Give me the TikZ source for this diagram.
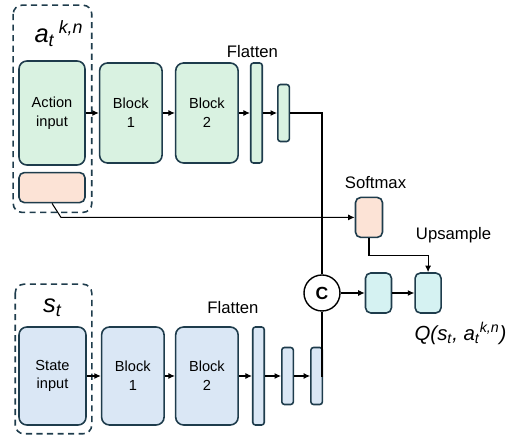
\documentclass[tikz,border=0pt]{standalone}
\usepackage{fontspec}
\setmainfont{Liberation Sans}
\usepackage{tikz}
\usetikzlibrary{arrows.meta, positioning, calc}
\definecolor{edgecolor}{HTML}{1E3C4C}
\definecolor{greenfill}{HTML}{D9F2E1}
\definecolor{bluefill}{HTML}{DAE7F5}
\definecolor{orangefill}{HTML}{FCE3D6}
\definecolor{cyanfill}{HTML}{D5F2F2}

\begin{document}
\begin{tikzpicture}[
        node distance=0.25cm,
        every node/.style={font=\fontsize{8.3}{10.6}\selectfont},
        box/.style={rectangle, draw=edgecolor, line width=0.9pt, rounded corners=4.5pt,
                    minimum width=1.25cm, minimum height=2cm, align=center, inner sep=1pt},
        bar/.style={rectangle, draw=edgecolor, line width=0.9pt, rounded corners=1.5pt,
                    minimum width=0.23cm, inner sep=0pt},
        lab/.style={font=\fontsize{9.5}{11}\selectfont, inner sep=0pt},
        var/.style={font=\fontsize{14.5}{16}\selectfont\itshape, inner sep=0pt},
        group/.style={draw=edgecolor, dash pattern=on 3.5pt off 2.5pt, line width=0.9pt,
                      rounded corners=5pt},
        arr/.style={-{Latex[length=1.3mm, width=1.2mm]}, line width=0.6pt}
    ]
    \useasboundingbox (0,0) rectangle (10.24,-8.76);

    % action branch
    \node[box, fill=greenfill, minimum width=1.32cm, minimum height=2.08cm] (action) at (1.04,-2.26) {Action\\input};
    \node[box, fill=orangefill, minimum width=1.32cm, minimum height=0.6cm, rounded corners=3pt,
          below=0.12cm of action] (mask) {};
    \node[box, fill=greenfill, right=0.26cm of action] (ablock1) {Block\\1};
    \node[box, fill=greenfill, right=0.24cm of ablock1] (ablock2) {Block\\2};
    \node[bar, fill=greenfill, minimum height=2cm, right=0.22cm of ablock2] (aflat) {};
    \node[bar, fill=greenfill, minimum height=1.14cm, right=0.28cm of aflat] (adense) {};
    \node[var, above=0.26cm of action, xshift=0.14cm] (alabel) {a\textsubscript{t}\,\textsuperscript{k,n}};
    \node[lab, above=0.08cm of aflat, xshift=-0.08cm] (aflatlabel) {Flatten};
    \draw[group] ($(action.north west)+(-0.10,1.10)$) rectangle ($(mask.south east)+(0.12,-0.18)$);

    % state branch
    \node[box, fill=bluefill, minimum width=1.34cm, minimum height=1.96cm] (state) at (1.05,-7.52) {State\\input};
    \node[box, fill=bluefill, minimum height=1.96cm, right=0.28cm of state] (sblock1) {Block\\1};
    \node[box, fill=bluefill, minimum height=1.96cm, right=0.2cm of sblock1] (sblock2) {Block\\2};
    \node[bar, fill=bluefill, minimum height=1.96cm, right=0.26cm of sblock2] (sflat) {};
    \node[bar, fill=bluefill, minimum height=1.14cm, right=0.32cm of sflat] (sdense1) {};
    \node[bar, fill=bluefill, minimum height=1.14cm, right=0.32cm of sdense1] (sdense2) {};
    \node[var, above=0.18cm of state] (slabel) {s\textsubscript{t}};
    \node[lab, above=0.24cm of sflat, xshift=-0.51cm] (sflatlabel) {Flatten};
    \draw[group] ($(state.north west)+(-0.06,0.84)$) rectangle ($(state.south east)+(0.10,-0.16)$);

    % head
    \node[circle, draw=black, line width=0.8pt, minimum size=0.72cm, inner sep=0pt,
          font=\fontsize{10}{12}\selectfont\bfseries] (concat) at (6.44,-5.86) {C};
    \node[bar, fill=cyanfill, minimum width=0.52cm, minimum height=0.8cm, rounded corners=3pt,
          right=0.48cm of concat] (fc1) {};
    \node[bar, fill=cyanfill, minimum width=0.52cm, minimum height=0.8cm, rounded corners=3pt,
          right=0.44cm of fc1] (fc2) {};
    \node[bar, fill=orangefill, minimum width=0.54cm, minimum height=0.8cm, rounded corners=3pt,
          above=0.68cm of fc1, xshift=-0.19cm] (soft) {};
    \node[lab, above=0.16cm of soft, xshift=0.13cm] (softlabel) {Softmax};
    \node[lab, above=0.58cm of fc2, xshift=0.51cm] (uplabel) {Upsample};
    \node[var, font=\fontsize{11.6}{14}\selectfont\itshape, below right=0.17cm and 0cm of fc2.south west]
        (qlabel) {Q(s\textsubscript{t}, a\textsubscript{t}\textsuperscript{k,n})};

    \draw[arr] (action) -- (ablock1);
    \draw[arr] (ablock1) -- (ablock2);
    \draw[arr] (ablock2) -- (aflat);
    \draw[arr] (aflat) -- (adense);
    \draw[arr] (state) -- (sblock1);
    \draw[arr] (sblock1) -- (sblock2);
    \draw[arr] (sblock2) -- (sflat);
    \draw[arr] (sflat) -- (sdense1);
    \draw[arr] (sdense1) -- (sdense2);
    \draw[line width=0.6pt] (adense.east) -| (concat.north);
    \draw[line width=0.6pt] (sdense2.east) -| (concat.south);
    \draw[arr] (mask.south) -- ($(mask.south |- soft.west)+(0.18,0)$) -- (soft.west);
    \draw[arr] (concat) -- (fc1);
    \draw[arr] (fc1) -- (fc2);
    \draw[arr] (soft.south) -- ++(0,-0.34) -| (fc2.north);
\end{tikzpicture}
\end{document}
